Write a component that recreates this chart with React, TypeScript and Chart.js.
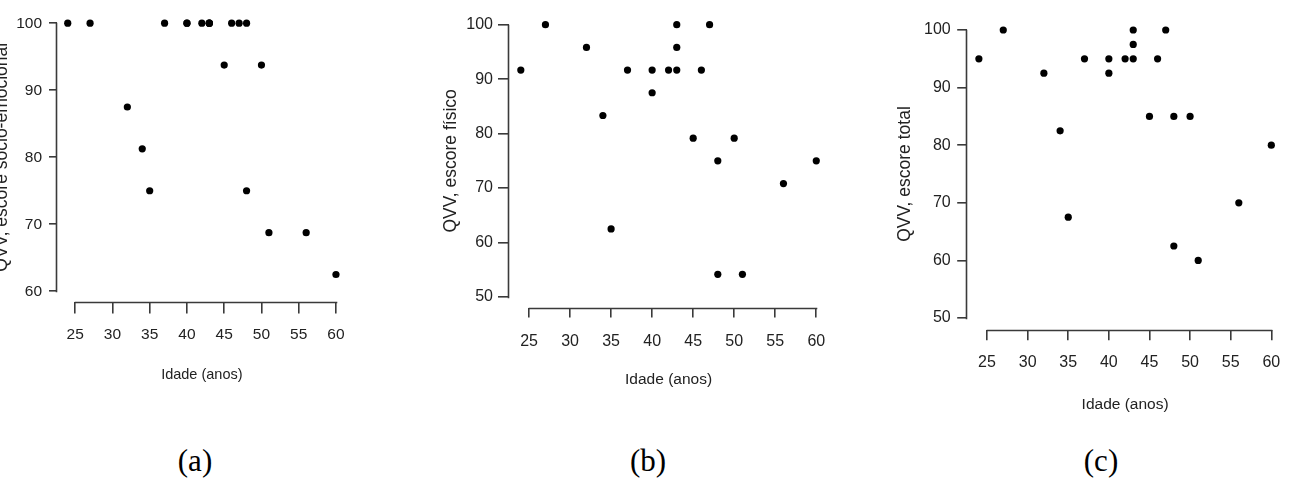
import React, { useEffect, useRef } from 'react';
import { Chart, registerables } from 'chart.js';

Chart.register(...registerables);

// ---------- data ----------
const ages = [24, 27, 32, 34, 35, 37, 40, 40, 42, 43, 43, 43, 45, 46, 47, 48, 48, 50, 51, 56, 60];
const scoreSocio = [100, 100, 87.5, 81.25, 75, 100, 100, 100, 100, 100, 100, 100, 93.75, 100, 100, 100, 75, 93.75, 68.75, 68.75, 62.5];
const scoreFisico = [91.67, 100, 95.83, 83.33, 62.5, 91.67, 91.67, 87.5, 91.67, 100, 95.83, 91.67, 79.17, 91.67, 100, 75, 54.17, 79.17, 54.17, 70.83, 75];
const scoreTotal = [95, 100, 92.5, 82.5, 67.5, 95, 95, 92.5, 95, 100, 97.5, 95, 85, 95, 100, 85, 62.5, 85, 60, 70, 80];

const xTicks = [25, 30, 35, 40, 45, 50, 55, 60];
const yTicksA = [60, 70, 80, 90, 100];
const yTicksBC = [50, 60, 70, 80, 90, 100];
const xRange = [22.56, 61.44];
const yRangeA = [58.4, 101.6];
const yRangeBC = [48, 102];

const xTitle = 'Idade (anos)';
const yTitles = ['QVV, escore sócio-emocional', 'QVV, escore físico', 'QVV, escore total'];
const captions = ['(a)', '(b)', '(c)'];

// ---------- style ----------
const TEXT = '#222';
const AXIS = '#3a3a3a';
const SANS = "'Liberation Sans', Arial, Helvetica, sans-serif";
const SERIF = "'Liberation Serif', 'Times New Roman', serif";

type Panel = {
  left: number; width: number; height: number;
  top: number; padRight: number; yW: number; xH: number;
  yTl: number; yPad: number; xTl: number; xPad: number;
  yTitlePad: number; xTitlePad: number;
  tickSize: number; xTitleSize: number; yTitleSize: number;
  scores: number[]; yTicks: number[]; yRange: number[]; yTitle: string;
};

const panels: Panel[] = [
  { left: -20, width: 380, height: 420, top: 12.5, padRight: 13.3, yW: 77, xH: 118,
    yTl: 8, yPad: 7, xTl: 11.5, xPad: 12, yTitlePad: 11.5, xTitlePad: 36,
    tickSize: 15.5, xTitleSize: 14.5, yTitleSize: 17.5,
    scores: scoreSocio, yTicks: yTicksA, yRange: yRangeA, yTitle: yTitles[0] },
  { left: 420, width: 420, height: 420, top: 13.8, padRight: 11.9, yW: 89, xH: 112.1,
    yTl: 11, yPad: 5, xTl: 9.5, xPad: 15, yTitlePad: 20.5, xTitlePad: 30.7,
    tickSize: 16, xTitleSize: 15.5, yTitleSize: 17.5,
    scores: scoreFisico, yTicks: yTicksBC, yRange: yRangeBC, yTitle: yTitles[1] },
  { left: 870, width: 419, height: 430, top: 18.5, padRight: 6, yW: 97.2, xH: 100.5,
    yTl: 10, yPad: 6.5, xTl: 10.7, xPad: 13.2, yTitlePad: 24.5, xTitlePad: 15.7,
    tickSize: 16, xTitleSize: 15.5, yTitleSize: 17.5,
    scores: scoreTotal, yTicks: yTicksBC, yRange: yRangeBC, yTitle: yTitles[2] },
];
const captionX = [195, 648, 1101];

const rAxes = {
  id: 'rAxes',
  afterDraw(chart: any) {
    const { ctx, chartArea, scales } = chart;
    const x = scales.x;
    const y = scales.y;
    ctx.save();
    ctx.strokeStyle = AXIS;
    ctx.lineWidth = 1.6;
    ctx.lineCap = 'square';
    const xt = x.ticks;
    const yt = y.ticks;
    const by = Math.round(chartArea.bottom) + 0.5;
    const x0 = Math.round(x.getPixelForValue(xt[0].value)) + 0.5;
    const x1 = Math.round(x.getPixelForValue(xt[xt.length - 1].value)) + 0.5;
    ctx.beginPath();
    ctx.moveTo(x0, by);
    ctx.lineTo(x1, by);
    ctx.stroke();
    const lx = Math.round(chartArea.left) - 0.5;
    const y0 = Math.round(y.getPixelForValue(yt[0].value)) + 0.5;
    const y1 = Math.round(y.getPixelForValue(yt[yt.length - 1].value)) + 0.5;
    ctx.beginPath();
    ctx.moveTo(lx, y0);
    ctx.lineTo(lx, y1);
    ctx.stroke();
    ctx.restore();
  },
};

function ScatterPanel({ p }: { p: Panel }) {
  const ref = useRef<HTMLCanvasElement | null>(null);
  useEffect(() => {
    if (!ref.current) return;
    const zeroPad = (s: any) => {
      s.paddingLeft = 0; s.paddingRight = 0; s.paddingTop = 0; s.paddingBottom = 0;
    };
    const chart = new Chart(ref.current, {
      type: 'scatter',
      data: {
        datasets: [{
          data: ages.map((a, i) => ({ x: a, y: p.scores[i] })),
          pointRadius: 3.6,
          pointBackgroundColor: '#000',
          pointBorderColor: '#000',
          pointBorderWidth: 0,
          pointHoverRadius: 3.6,
          clip: false as any,
        }],
      },
      options: {
        animation: false,
        responsive: true,
        maintainAspectRatio: false,
        events: [],
        layout: { padding: { left: 0, top: p.top, right: p.padRight, bottom: 0 } },
        plugins: { legend: { display: false }, tooltip: { enabled: false } },
        scales: {
          x: {
            type: 'linear',
            position: 'bottom',
            min: xRange[0],
            max: xRange[1],
            afterBuildTicks: (s: any) => { s.ticks = xTicks.map((v) => ({ value: v })); },
            afterFit: (s: any) => { s.height = p.xH; zeroPad(s); },
            grid: { display: true, drawOnChartArea: false, drawTicks: true, tickLength: p.xTl, color: AXIS, lineWidth: 1.6 },
            border: { display: false },
            ticks: { padding: p.xPad, color: TEXT, autoSkip: false, maxRotation: 0, font: { family: SANS, size: p.tickSize } },
            title: { display: true, text: xTitle, color: TEXT, font: { family: SANS, size: p.xTitleSize }, padding: { top: 0, bottom: p.xTitlePad } },
          },
          y: {
            type: 'linear',
            position: 'left',
            min: p.yRange[0],
            max: p.yRange[1],
            afterBuildTicks: (s: any) => { s.ticks = p.yTicks.map((v) => ({ value: v })); },
            afterFit: (s: any) => { s.width = p.yW; zeroPad(s); },
            grid: { display: true, drawOnChartArea: false, drawTicks: true, tickLength: p.yTl, color: AXIS, lineWidth: 1.6 },
            border: { display: false },
            ticks: { padding: p.yPad, color: TEXT, autoSkip: false, font: { family: SANS, size: p.tickSize } },
            title: { display: true, text: p.yTitle, color: TEXT, font: { family: SANS, size: p.yTitleSize }, padding: { top: p.yTitlePad, bottom: 0 } },
          },
        },
      } as any,
      plugins: [rAxes],
    });
    return () => chart.destroy();
  }, [p]);
  return (
    <div style={{ position: 'absolute', left: p.left, top: 0, width: p.width, height: p.height }}>
      <canvas ref={ref} />
    </div>
  );
}

export default function App() {
  return (
    <div style={{ position: 'absolute', left: 0, top: 0, width: 1289, height: 479, overflow: 'hidden', background: '#fff' }}>
      {panels.map((p, i) => <ScatterPanel key={i} p={p} />)}
      {captions.map((c, i) => (
        <div key={c} style={{ position: 'absolute', left: captionX[i] - 50, width: 100, top: 442, textAlign: 'center', fontFamily: SERIF, fontSize: 31, color: '#000', lineHeight: '38px' }}>{c}</div>
      ))}
    </div>
  );
}
